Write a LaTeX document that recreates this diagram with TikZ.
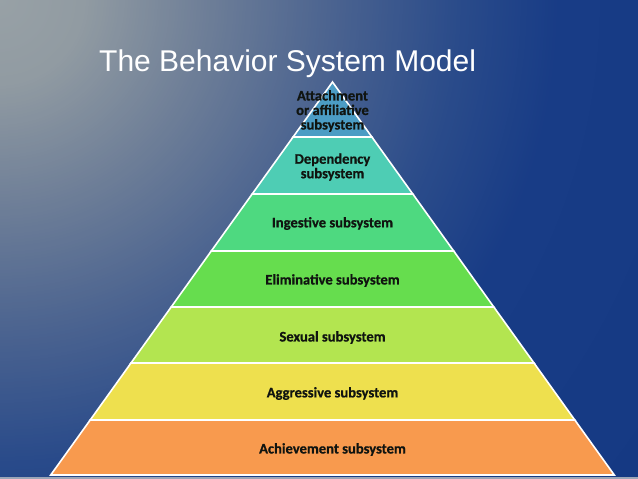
\documentclass[tikz,border=0pt]{standalone}
\usepackage{fontspec}
\setmainfont{Liberation Sans}
\newfontfamily\layerfont{Carlito}[BoldFeatures={FakeBold=0.7}]
\definecolor{bgA}{RGB}{152,161,166}
\definecolor{bgAb}{RGB}{145,155,162}
\definecolor{bgB}{RGB}{112,128,152}
\definecolor{bgC}{RGB}{76,100,144}
\definecolor{bgD}{RGB}{42,75,138}
\definecolor{bgE}{RGB}{24,60,134}
\definecolor{bgF}{RGB}{21,57,131}
\definecolor{cAtt}{RGB}{75,156,196}
\definecolor{cDep}{RGB}{78,205,180}
\definecolor{cIng}{RGB}{78,217,128}
\definecolor{cEli}{RGB}{102,221,78}
\definecolor{cSex}{RGB}{179,229,80}
\definecolor{cAgg}{RGB}{238,224,78}
\definecolor{cAch}{RGB}{248,154,78}
\definecolor{txt}{RGB}{16,20,16}
\begin{document}
\begin{tikzpicture}[x=1pt,y=-1pt,
  layer/.style={draw=white,line width=1.6pt,line join=miter},
  lbl/.style={font=\layerfont\bfseries\fontsize{14.6}{14.5}\selectfont,text=txt,align=center,inner sep=0pt},
  title/.style={font=\fontsize{30}{36}\selectfont,text=white,inner sep=0pt,anchor=base west}]
\useasboundingbox (0,0) rectangle (638,479);
\begin{scope}
\clip (0,0) rectangle (638,479);
\fill[bgF] (0,0) rectangle (638,479);
\foreach \ra/\rb/\ca/\cb in {560/810/bgE/bgF, 460/560/bgD/bgE, 330/460/bgC/bgD, 200/330/bgB/bgC, 85/200/bgAb/bgB, 0/85/bgA/bgAb}{
  \pgfmathtruncatemacro{\nsteps}{(\rb-\ra)/3}
  \foreach \i in {0,...,\nsteps}{
    \pgfmathsetmacro{\rr}{\rb-3*\i}
    \pgfmathsetmacro{\pct}{max(0,min(100,(\rr-\ra)/(\rb-\ra)*100))}
    \fill[color=\cb!\pct!\ca] (0,0) circle (\rr);
  }
}
\end{scope}
\fill[color=bgB!70!white] (0,476.5) rectangle (638,479);
% layers
\filldraw[layer,fill=cAch] (50.7,475) -- (614.3,475) -- (574.8,420) -- (90.2,420) -- cycle;
\filldraw[layer,fill=cAgg] (90.2,420) -- (574.8,420) -- (534.0,363) -- (131.0,363) -- cycle;
\filldraw[layer,fill=cSex] (131.0,363) -- (534.0,363) -- (493.8,307) -- (171.2,307) -- cycle;
\filldraw[layer,fill=cEli] (171.2,307) -- (493.8,307) -- (453.7,251) -- (211.3,251) -- cycle;
\filldraw[layer,fill=cIng] (211.3,251) -- (453.7,251) -- (412.8,194) -- (252.2,194) -- cycle;
\filldraw[layer,fill=cDep] (252.2,194) -- (412.8,194) -- (371.9,137) -- (293.1,137) -- cycle;
\filldraw[layer,fill=cAtt] (293.1,137) -- (371.9,137) -- (332.5,82) -- cycle;
% labels
\node[title] (title) at (99,71) {The Behavior System Model};
\node[lbl] (att) at (332.5,111) {Attachment\\or affiliative\\subsystem};
\node[lbl] (dep) at (332.5,167) {Dependency\\subsystem};
\node[lbl] (ing) at (332.5,223.5) {Ingestive subsystem};
\node[lbl] (eli) at (332.5,280.5) {Eliminative subsystem};
\node[lbl] (sex) at (332.5,337.5) {Sexual subsystem};
\node[lbl] (agg) at (332.5,393.5) {Aggressive subsystem};
\node[lbl] (ach) at (332.5,449.5) {Achievement subsystem};
\end{tikzpicture}
\end{document}
